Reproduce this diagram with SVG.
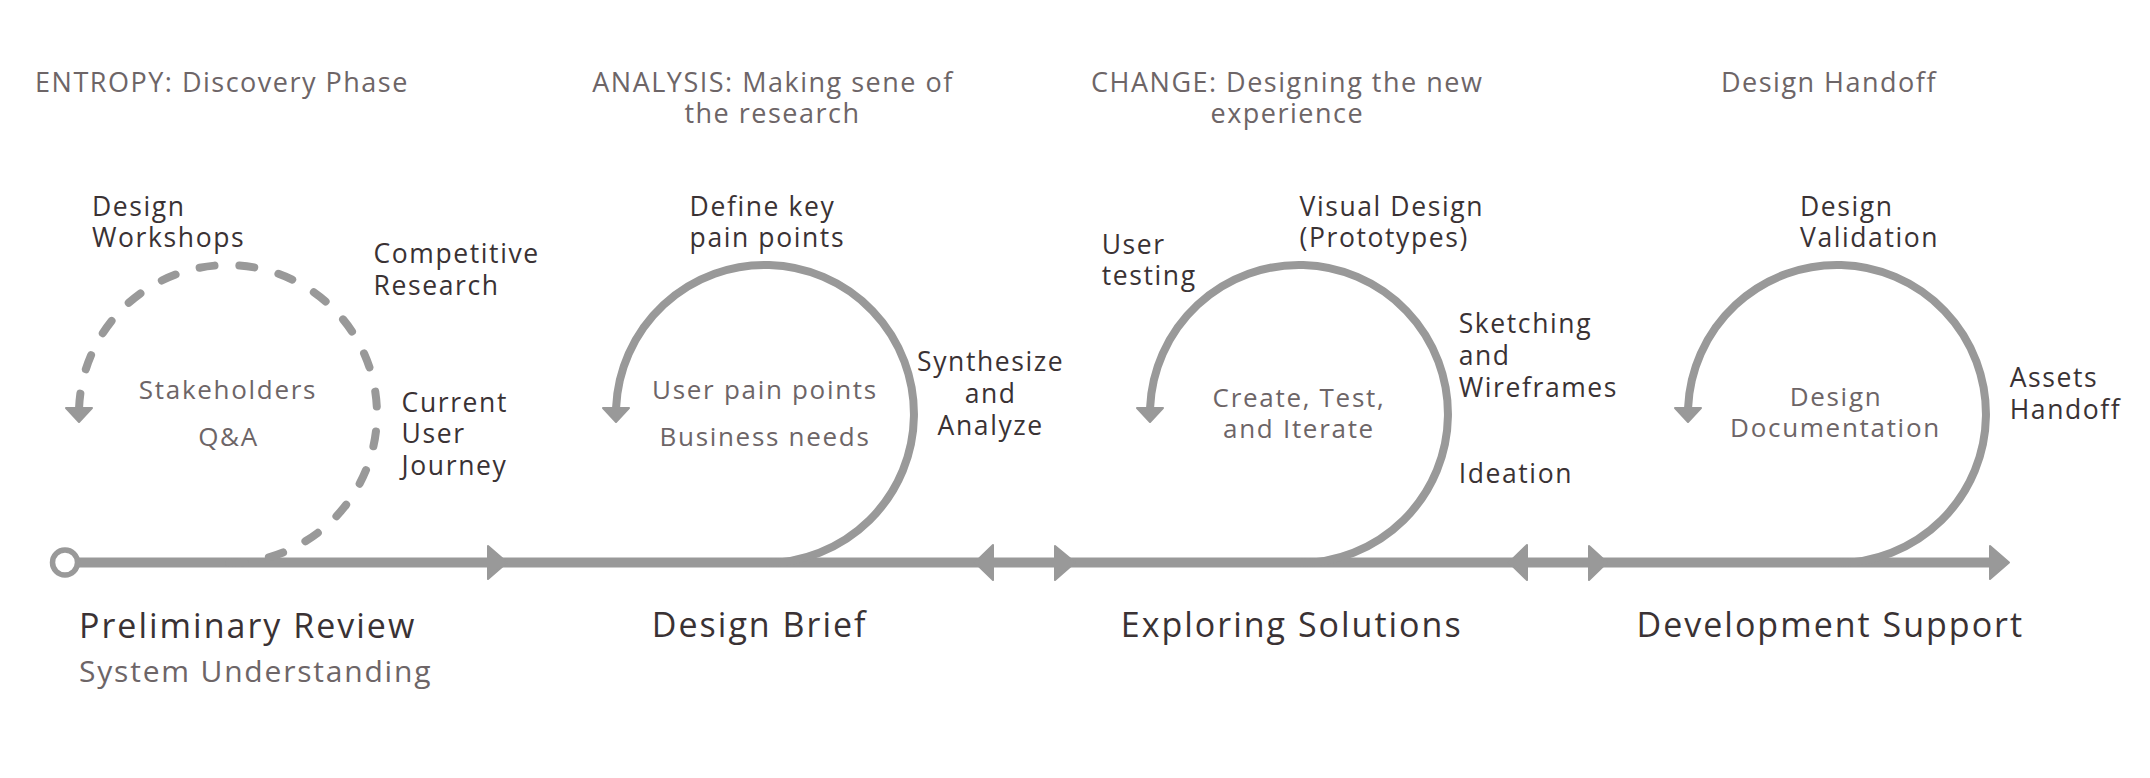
<svg xmlns="http://www.w3.org/2000/svg" width="2150" height="778" viewBox="0 0 2150 778">
<style>
text{font-family:"Open Sans","Liberation Sans",sans-serif;}
.title{font-size:27px;fill:#6d6567;letter-spacing:1.5px;}
.lbl{font-size:26.5px;fill:#3a3234;letter-spacing:1.6px;}
.inner{font-size:26px;fill:#6d6567;letter-spacing:1.7px;}
.phase{font-size:34px;fill:#3a3234;letter-spacing:2px;}
.sub{font-size:30px;fill:#6d6567;letter-spacing:1.8px;}
.mid{text-anchor:middle;}
.loop{fill:none;stroke:#999999;stroke-width:8;}
.dash{stroke-dasharray:15 25;stroke-dashoffset:38.6;stroke-linecap:round;}
.head{fill:#999999;stroke:#999999;stroke-width:2;stroke-linejoin:round;}
</style>
<rect width="2150" height="778" fill="#ffffff"/>
<g id="connectors">
  <line x1="76" y1="562.5" x2="1995" y2="562.5" stroke="#999999" stroke-width="10"/>
  <polygon class="head" points="488,546 507,562.5 488,579"/>
  <polygon class="head" points="993,545 975,562.5 993,580"/>
  <polygon class="head" points="1055,546 1075,562.5 1055,580"/>
  <polygon class="head" points="1527,545 1509,562.5 1527,580"/>
  <polygon class="head" points="1589,546 1607,562.5 1589,580"/>
  <polygon class="head" points="1990,546 2009,562.5 1990,579"/>
</g>
<g id="start">
  <circle cx="65" cy="562.5" r="12.5" fill="#ffffff" stroke="#999999" stroke-width="5.5"/>
</g>
<g id="preliminary-review">
  <path class="loop dash" d="M 228 563 A 149 149 0 1 0 79.1 407.5"/>
  <polygon class="head" points="66,408 92,408 79,422"/>
  <text class="title mid" x="222" y="91.7">ENTROPY: Discovery Phase</text>
  <text class="lbl" x="92" y="216">Design</text>
  <text class="lbl" x="92" y="246.7">Workshops</text>
  <text class="lbl" x="373.5" y="263.3">Competitive</text>
  <text class="lbl" x="373.5" y="295">Research</text>
  <text class="lbl" x="401.6" y="411.7">Current</text>
  <text class="lbl" x="401.6" y="443.3">User</text>
  <text class="lbl" x="401.6" y="475">Journey</text>
  <text class="inner mid" x="228" y="399.3">Stakeholders</text>
  <text class="inner mid" x="228.5" y="445.5">Q&amp;A</text>
  <text class="phase" x="79" y="638.3">Preliminary Review</text>
  <text class="sub" x="79" y="681.7">System Understanding</text>
</g>
<g id="design-brief">
  <path class="loop" d="M 765 563 A 149 149 0 1 0 616.1 407.5"/>
  <polygon class="head" points="603,408 629,408 616,422"/>
  <text class="title mid" x="773" y="91.7">ANALYSIS: Making sene of</text>
  <text class="title mid" x="772.5" y="123.3">the research</text>
  <text class="lbl" x="689.6" y="215.7">Define key</text>
  <text class="lbl" x="689.6" y="246.7">pain points</text>
  <text class="lbl mid" x="990.7" y="371">Synthesize</text>
  <text class="lbl mid" x="990.7" y="403.3">and</text>
  <text class="lbl mid" x="990.7" y="435">Analyze</text>
  <text class="inner mid" x="765" y="399.3">User pain points</text>
  <text class="inner mid" x="765" y="445.7">Business needs</text>
  <text class="phase mid" x="759.7" y="637.3">Design Brief</text>
</g>
<g id="exploring-solutions">
  <path class="loop" d="M 1299 563 A 149 149 0 1 0 1150.1 407.5"/>
  <polygon class="head" points="1137,408 1163,408 1150,422"/>
  <text class="title mid" x="1287.2" y="91.7">CHANGE: Designing the new</text>
  <text class="title mid" x="1287.3" y="123.3">experience</text>
  <text class="lbl" x="1101.7" y="254">User</text>
  <text class="lbl" x="1101.7" y="285">testing</text>
  <text class="lbl" x="1299.5" y="215.7">Visual Design</text>
  <text class="lbl" x="1299.5" y="246.7">(Prototypes)</text>
  <text class="lbl" x="1458.7" y="333">Sketching</text>
  <text class="lbl" x="1458.7" y="365">and</text>
  <text class="lbl" x="1458.7" y="396.7">Wireframes</text>
  <text class="lbl" x="1458.7" y="483.3">Ideation</text>
  <text class="inner mid" x="1299" y="407.3">Create, Test,</text>
  <text class="inner mid" x="1299" y="438.3">and Iterate</text>
  <text class="phase mid" x="1291.7" y="637.3">Exploring Solutions</text>
</g>
<g id="development-support">
  <path class="loop" d="M 1837 563 A 149 149 0 1 0 1688.1 407.5"/>
  <polygon class="head" points="1675,408 1701,408 1688,422"/>
  <text class="title mid" x="1829" y="91.7">Design Handoff</text>
  <text class="lbl" x="1800" y="215.7">Design</text>
  <text class="lbl" x="1800" y="247.3">Validation</text>
  <text class="lbl" x="2009.7" y="387.3">Assets</text>
  <text class="lbl" x="2009.7" y="419.3">Handoff</text>
  <text class="inner mid" x="1836" y="406">Design</text>
  <text class="inner mid" x="1835.5" y="437.3">Documentation</text>
  <text class="phase mid" x="1830.3" y="637.3">Development Support</text>
</g>
</svg>
